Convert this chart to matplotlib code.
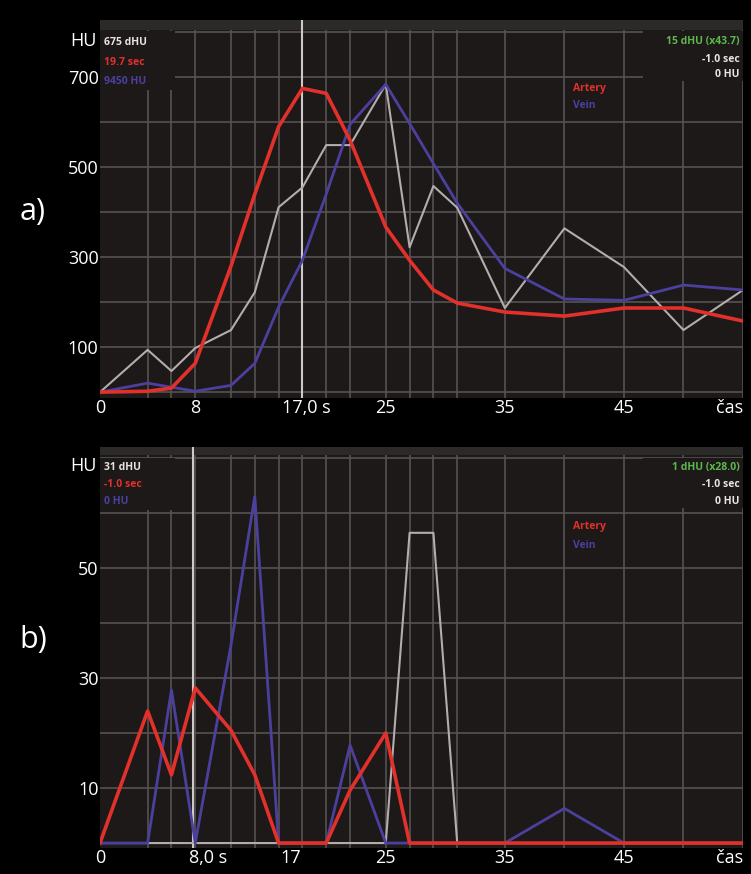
import matplotlib.pyplot as plt
from matplotlib.patches import Rectangle

# sample times (s) -- grid lines of the scanner plot
times = [0, 4, 6, 8, 11, 13, 15, 17, 19, 21, 24, 26, 28, 30, 34, 39, 44, 49, 54]

# panel a) values in HU
a_artery = [0, 2, 9, 64, 280, 440, 590, 675, 664, 560, 367, 293, 227, 198, 178, 169, 187, 187, 158]
a_vein = [0, 20, 11, 2, 15, 64, 189, 293, 440, 595, 684, 597, 508, 420, 275, 207, 204, 238, 227]
a_other = [0, 94, 47, 98, 138, 222, 411, 455, 549, 549, 684, 322, 458, 410, 187, 364, 278, 138, 227]

# panel b) values in HU
b_artery = [0, 24, 12.4, 28.2, 20.5, 12.4, 0, 0, 0, 9.6, 20, 0, 0, 0, 0, 0, 0, 0, 0]
b_vein = [0, 0, 27.8, 0, 36, 63, 0, 0, 0, 17.8, 0, 0, 0, 0, 0, 6.3, 0, 0, 0]
b_other = [0, 0, 0, 0, 0, 0, 0, 0, 0, 0, 0, 56.4, 56.4, 0, 0, 0, 0, 0, 0]

a_xtick_pos = [0, 8, 17.3, 24, 34, 44, 54]
b_xtick_pos = [0, 9.1, 16, 24, 34, 44, 54]
a_xlabels = ["0", "8", "17,0 s", "25", "35", "45", "čas"]
b_xlabels = ["0", "8,0 s", "17", "25", "35", "45", "čas"]
a_yticks = [100, 300, 500, 700]
b_yticks = [10, 30, 50]

a_info_left = ["675 dHU", "19.7 sec", "9450 HU"]
a_info_right = ["15 dHU (x43.7)", "-1.0 sec", "0 HU"]
b_info_left = ["31 dHU", "-1.0 sec", "0 HU"]
b_info_right = ["1 dHU (x28.0)", "-1.0 sec", "0 HU"]

RED = "#e2302a"
BLUE = "#4c409e"
GRAY = "#b3adad"
BG = "#1d1919"
GRID = "#575252"
GREEN = "#5cb84a"

plt.rcParams["font.family"] = ["Open Sans", "DejaVu Sans"]

fig = plt.figure(figsize=(7.51, 8.74), dpi=100, facecolor="black")

W, H = 751, 874


def make_ax(top_px, bottom_px):
    return fig.add_axes([100 / W, 1 - bottom_px / H, 643 / W, (bottom_px - top_px) / H])


def style(ax, ymin, ymax, ystep, ytop_grid, yticks, xticks, xlabels, marker_t, strip):
    ax.set_facecolor(BG)
    ax.set_xlim(0, 54)
    ax.set_ylim(ymin, ymax)
    for s in ax.spines.values():
        s.set_visible(False)
    # grid
    for t in times[1:]:
        ax.axvline(t, color=GRID, lw=1.2, zorder=1)
    y = 0
    while y <= ytop_grid:
        ax.axhline(y, color=GRID, lw=1.2, zorder=1)
        y += ystep
    ax.axhspan(strip, ymax, color="#2c2929", zorder=1.5, lw=0)
    ax.axvline(marker_t, color="#cfc8c8", lw=1.5, zorder=2)
    ax.set_xticks(xticks)
    ax.set_xticklabels(xlabels)
    ax.set_yticks(yticks)
    ax.tick_params(length=0, colors="white", labelsize=13, pad=1)
    ax.get_xticklabels()[-1].set_ha("right")


def draw_lines(ax, other, vein, artery):
    ax.plot(times, other, color=GRAY, lw=1.5, zorder=3, solid_joinstyle="round")
    ax.plot(times, vein, color=BLUE, lw=2, zorder=4, solid_joinstyle="round")
    ax.plot(times, artery, color=RED, lw=2.6, zorder=5, solid_joinstyle="round")


# ---------------- panel a)
ax1 = make_ax(20, 398)
style(ax1, -13, 827, 100, 800, a_yticks, a_xtick_pos, a_xlabels, 17, 805)
draw_lines(ax1, a_other, a_vein, a_artery)

# ---------------- panel b)
ax2 = make_ax(447, 848)
style(ax2, -0.9, 72, 10, 70, b_yticks, b_xtick_pos, b_xlabels, 7.8, 70.5)
draw_lines(ax2, b_other, b_vein, b_artery)


def overlays(ax, top_px, bottom_px, left, right, ys_left, ys_right, legend_ys):
    h = bottom_px - top_px

    def fy(py):
        return 1 - (py - top_px) / h

    # boxes behind the info texts
    ax.add_patch(Rectangle((0, fy(ys_left[-1] + 8)), 0.117, fy(top_px + 11) - fy(ys_left[-1] + 8),
                           transform=ax.transAxes, color=BG, zorder=2.5, lw=0))
    ax.add_patch(Rectangle((0.845, fy(ys_right[-1] + 6)), 0.155, fy(top_px + 11) - fy(ys_right[-1] + 6),
                           transform=ax.transAxes, color=BG, zorder=2.5, lw=0))
    for txt, c, py in zip(left, ["#e8e4e4", RED, BLUE], ys_left):
        ax.text(0.006, fy(py), txt, color=c, fontsize=7.5, fontweight="bold",
                transform=ax.transAxes, va="center", ha="left", zorder=6)
    for txt, c, py in zip(right, [GREEN, "#e8e4e4", "#e8e4e4"], ys_right):
        ax.text(0.995, fy(py), txt, color=c, fontsize=7.5, fontweight="bold",
                transform=ax.transAxes, va="center", ha="right", zorder=6)
    ax.text((573 - 100) / 643, fy(legend_ys[0]), "Artery", color=RED, fontsize=7.5,
            fontweight="bold", transform=ax.transAxes, va="center", ha="left", zorder=6)
    ax.text((573 - 100) / 643, fy(legend_ys[1]), "Vein", color=BLUE, fontsize=7.5,
            fontweight="bold", transform=ax.transAxes, va="center", ha="left", zorder=6)
    ax.text(-0.005, fy(ys_left[0] - 2), "HU", color="white", fontsize=13,
            transform=ax.transAxes, va="center", ha="right")


overlays(ax1, 20, 398, a_info_left, a_info_right, [43, 63, 82], [42, 60, 75], [89, 106])
overlays(ax2, 447, 848, b_info_left, b_info_right, [468, 485, 502], [468, 485, 502], [527, 545])

fig.text(33 / W, 1 - 212 / H, "a)", color="white", fontsize=22, ha="center", va="center")
fig.text(33 / W, 1 - 640 / H, "b)", color="white", fontsize=22, ha="center", va="center")

fig.savefig("out.png", dpi=100, facecolor="black")
